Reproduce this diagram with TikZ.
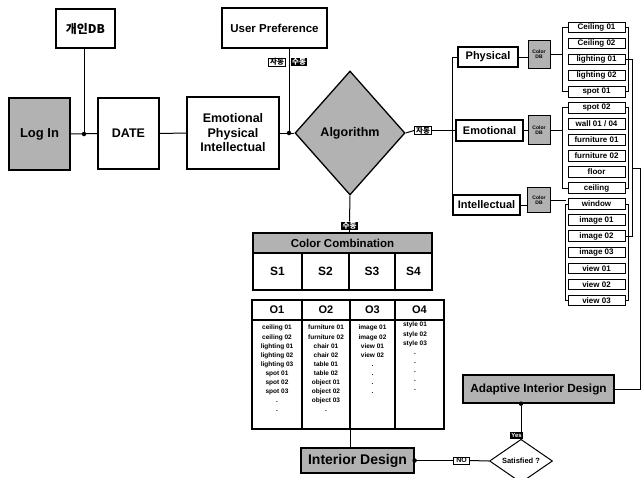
\documentclass[tikz,border=0pt]{standalone}
\usepackage{fontspec}
\setmainfont{Liberation Sans}
\newfontfamily\kr{Noto Sans CJK KR}
\usetikzlibrary{shapes.geometric}
\tikzset{
  box/.style={draw, line width=1.3pt, fill=white, inner sep=0pt, align=center, font=\bfseries},
  gbox/.style={box, fill=black!30},
  item/.style={draw, line width=0.9pt, fill=white, minimum width=57pt, minimum height=10.5pt, inner sep=0pt, font=\bfseries\fontsize{8}{8}\selectfont},
  cdb/.style={draw, line width=0.9pt, fill=black!30, inner sep=0pt, align=center, font=\bfseries\fontsize{5}{5.5}\selectfont},
  blab/.style={fill=black, text=white, inner xsep=1.5pt, inner ysep=0.8pt, font=\kr\bfseries\fontsize{7.5}{7.5}\selectfont},
  wlab/.style={draw, line width=0.9pt, fill=white, inner xsep=1.5pt, inner ysep=0.5pt, font=\kr\bfseries\fontsize{7.5}{7.5}\selectfont},
  conn/.style={line width=1pt},
  coltext/.style={anchor=north, align=center, inner sep=0pt, font=\bfseries\fontsize{6.5}{9.1}\selectfont},
  dot/.style={circle, fill=black, inner sep=0pt, minimum size=4.5pt}
}
\begin{document}
\begin{tikzpicture}[x=1pt,y=-1pt]
\useasboundingbox (0,0) rectangle (642,477);

% left chain
\node[box, minimum width=59pt, minimum height=39pt, font=\kr\bfseries\fontsize{12}{12}\selectfont] (db) at (85.5,28.5) {개인DB};
\node[gbox, minimum width=61pt, minimum height=72pt, font=\bfseries\fontsize{13}{13}\selectfont] (login) at (39.5,134) {Log In};
\node[box, minimum width=61pt, minimum height=71pt, font=\bfseries\fontsize{12.5}{13}\selectfont] (date) at (128.5,133.5) {DATE};
\node[box, minimum width=92pt, minimum height=72pt, font=\bfseries\fontsize{12.5}{14.5}\selectfont] (epi) at (233,133) {Emotional\\Physical\\Intellectual};
\node[box, minimum width=105pt, minimum height=40pt, font=\bfseries\fontsize{11.5}{12}\selectfont] (up) at (274.5,28) {User Preference};
\node[diamond, draw, line width=1.3pt, fill=black!30, minimum width=110pt, minimum height=124pt, inner sep=0pt, font=\bfseries\fontsize{12.5}{13}\selectfont] (algo) at (350,133) {Algorithm};

\node[dot] (j1) at (84,134) {};
\node[dot] (j2) at (289,133) {};
\draw[conn] (login.east) -- (date.west);
\draw[conn] (j1) -- (j1 |- db.south);
\draw[conn] (date.east) -- (epi.west);
\draw[conn] (epi.east) -- (algo.west);
\draw[conn] (j2) -- (j2 |- up.south);
\node[wlab] (lab1a) at (277,62) {자동};
\node[blab] (lab1b) at (299,62) {수동};

% right branches
\node[box, minimum width=60pt, minimum height=20pt, font=\bfseries\fontsize{11}{11}\selectfont] (phys) at (488,57) {Physical};
\node[box, minimum width=67pt, minimum height=21pt, font=\bfseries\fontsize{11}{11}\selectfont] (emo) at (489.5,130.5) {Emotional};
\node[box, minimum width=67pt, minimum height=20pt, font=\bfseries\fontsize{11}{11}\selectfont] (intel) at (486.5,205) {Intellectual};
\coordinate (tr) at (452,130.5);
\node[wlab] (lab2) at (423,130.5) {자동};
\draw[conn] (algo.east) -- (lab2.west);
\draw[conn] (lab2.east) -- (tr);
\draw[conn] (phys.west) -- (phys.west -| tr) -- (intel.west -| tr) -- (intel.west);
\draw[conn] (tr) -- (emo.west);

\node[cdb, minimum width=22pt, minimum height=28pt] (cP) at (539,54) {Color\\DB};
\node[cdb, minimum width=22pt, minimum height=29pt] (cE) at (539,130) {Color\\DB};
\node[cdb, minimum width=23pt, minimum height=25pt] (cI) at (539,200) {Color\\DB};
\draw[conn] (phys.east) -- (phys.east -| cP.west);
\draw[conn] (emo.east) -- (emo.east -| cE.west);
\draw[conn] (intel.east) -- (intel.east -| cI.west);

\foreach \t [count=\i] in {Ceiling 01,Ceiling 02,lighting 01,lighting 02,spot 01,spot 02,wall 01 / 04,furniture 01,furniture 02,floor,ceiling,window,image 01,image 02,image 03,view 01,view 02,view 03}
  \node[item] (it\i) at (596.5,{27.5+(\i-1)*16.05}) {\t};

% left brackets
\coordinate (lbP) at ([xshift=-5pt]it1.west);
\coordinate (lbE) at ([xshift=-5pt]it6.west);
\coordinate (lbI) at ([xshift=-2pt]it12.west);
\draw[conn] (it1.west) -- (lbP) |- (it5.west);
\draw[conn] (it6.west) -- (lbE) |- (it11.west);
\draw[conn] (it12.west) -- (lbI) |- (it18.west);
\draw[conn] (cP.east) -- (cP.east -| lbP);
\draw[conn] (cE.east) -- (cE.east -| lbE);
\draw[conn] (cI.east) -- (cI.east -| lbI);
% right brackets
\draw[conn] (it1.east) -- ([xshift=3pt]it1.east) |- (it5.east);
\draw[conn] (it6.east) -- ([xshift=3pt]it6.east) |- (it11.east);
\draw[conn] (it12.east) -- ([xshift=3pt]it12.east) |- (it18.east);
\draw[conn] (it3.east) -- ([xshift=7pt]it3.east) |- (it14.east);

% adaptive
\node[gbox, minimum width=151pt, minimum height=28pt, font=\bfseries\fontsize{11.8}{12}\selectfont] (adapt) at (538.5,389) {Adaptive Interior Design};
\coordinate (rb) at (632,168);
\coordinate (rc) at (640,168);
\draw[conn] (adapt.east) -| (rc) -- (rb);

% colour combination
\node[gbox, draw, minimum width=179pt, minimum height=20pt, line width=1.1pt, font=\bfseries\fontsize{11.5}{12}\selectfont] (cc) at (342.5,243) {Color Combination};
\node[blab] (lab3) at (349.5,226) {수동};
\draw[conn] (algo.south) -- (lab3.north);
\draw[conn] (lab3.south) -- (lab3.south |- cc.north);

\tikzset{scell/.style={draw, line width=1.1pt, fill=white, inner sep=0pt, font=\bfseries\fontsize{12}{12}\selectfont, minimum height=37pt}}
\node[scell, minimum width=49pt] (s1) at (277.5,271.5) {S1};
\node[scell, minimum width=47pt] (s2) at (325.5,271.5) {S2};
\node[scell, minimum width=46pt] (s3) at (372,271.5) {S3};
\node[scell, minimum width=37pt] (s4) at (413.5,271.5) {S4};

\tikzset{ohead/.style={draw, line width=1.1pt, fill=white, inner sep=0pt, font=\bfseries\fontsize{11}{11}\selectfont, minimum height=20pt},
  obody/.style={draw, line width=1.1pt, fill=white, inner sep=0pt, minimum height=109pt}}
\node[ohead, minimum width=50pt] (o1) at (277,310) {O1};
\node[ohead, minimum width=48pt] (o2) at (326,310) {O2};
\node[ohead, minimum width=45pt] (o3) at (372.5,310) {O3};
\node[ohead, minimum width=49pt] (o4) at (419.5,310) {O4};
\node[obody, minimum width=50pt] (b1) at (277,374.5) {};
\node[obody, minimum width=48pt] (b2) at (326,374.5) {};
\node[obody, minimum width=45pt] (b3) at (372.5,374.5) {};
\node[obody, minimum width=49pt] (b4) at (419.5,374.5) {};
\node[coltext] (t1) at (277,325) {ceiling 01\\ceiling 02\\lighting 01\\lighting 02\\lighting 03\\spot 01\\spot 02\\spot 03\\.\\.};
\node[coltext] (t2) at (326,325) {furniture 01\\furniture 02\\chair 01\\chair 02\\table 01\\table 02\\object 01\\object 02\\object 03\\.};
\node[coltext] (t3) at (372.5,325) {image 01\\image 02\\view 01\\view 02\\.\\.\\.\\.};
\node[coltext] (t4) at (415,322) {style 01\\style 02\\style 03\\.\\.\\.\\.\\.};

% interior design and loop
\node[gbox, minimum width=113pt, minimum height=25pt, font=\bfseries\fontsize{14}{14}\selectfont] (idn) at (357.5,460.5) {Interior Design};
\draw[conn] (b2.south east) -- (b2.south east |- idn.north);
\node[diamond, draw, line width=1pt, fill=white, minimum width=63pt, minimum height=32pt, inner sep=0pt, font=\bfseries\fontsize{7.5}{8}\selectfont] (sat) at (521,461) {Satisfied ?};
\node[wlab, font=\bfseries\fontsize{7}{7}\selectfont, inner xsep=2.5pt, inner ysep=1pt] (no) at (461.5,460.5) {NO};
\node[dot] (d3) at (idn.east) {};
\draw[conn] (idn.east) -- (no.west);
\draw[conn] (no.east) -- (sat.west);
\node[blab, font=\bfseries\fontsize{6}{6}\selectfont, inner ysep=1pt] (yes) at (516.5,435.5) {Yes};
\node[dot] (d4) at (adapt.south -| sat.north) {};
\draw[conn] (sat.north) -- (yes.south -| sat.north);
\draw[conn] (yes.north -| sat.north) -- (d4);
\end{tikzpicture}
\end{document}
